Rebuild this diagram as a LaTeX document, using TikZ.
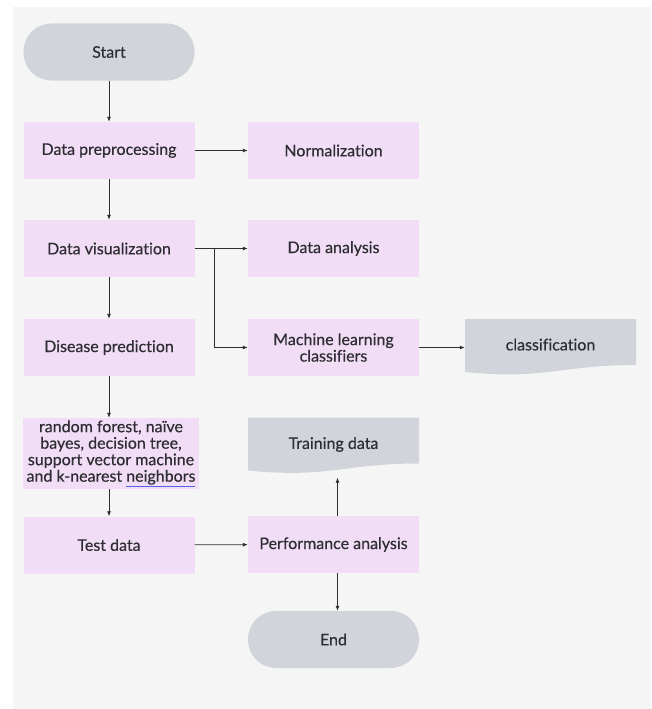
\documentclass[tikz,border=0pt]{standalone}
\usepackage{fontspec}
\setmainfont{Lato}[Ligatures=CommonOff, FakeBold=0.4]
\usepackage{tikz}
\usetikzlibrary{positioning,shapes,arrows.meta}

\definecolor{bgcol}{RGB}{245,245,245}
\definecolor{pinkcol}{RGB}{241,221,246}
\definecolor{graycol}{RGB}{209,213,219}
\definecolor{txtcol}{RGB}{45,45,50}
\definecolor{ulblue}{RGB}{80,100,230}

\tikzstyle{line}=[-, line width=0.8pt, draw=txtcol]
\tikzstyle{arrow}=[line, -{Latex[length=5pt,width=4pt]}]
\tikzstyle{procbox}=[rectangle, fill=pinkcol, minimum width=171pt, minimum height=57pt, text=txtcol, font=\fontsize{16}{16.5}\selectfont]
\tikzstyle{termbox}=[procbox, fill=graycol, rounded corners=28pt]
\tikzstyle{docbox}=[procbox, fill=none, path picture={
    \fill[graycol] (path picture bounding box.north west) -- (path picture bounding box.north east)
      -- ([yshift=11pt]path picture bounding box.south east)
      .. controls +(-75pt,0pt) and +(80pt,-8pt) .. ([yshift=4pt]path picture bounding box.south west) -- cycle;}]

\begin{document}
\begin{tikzpicture}[x=1pt, y=-1pt]
        \useasboundingbox (0,0) rectangle (651,709);
        \fill[bgcol] (13,7) rectangle (651,709);

        \node[termbox] (start) at (109,52) {Start};
        \node[procbox] (prep) at (109,150.5) {Data preprocessing};
        \node[procbox] (norm) at (333.5,150.5) {Normalization};
        \node[procbox] (vis) at (109,248.5) {Data visualization};
        \node[procbox] (anal) at (333.5,248.5) {Data analysis};
        \node[procbox] (dis) at (109,347.5) {Disease prediction};
        \node[procbox, align=center] (mlc) at (333.5,347.5) {Machine learning\\classifiers};
        \node[docbox] (cls) at (550.5,347.5) {\raisebox{6pt}{classification}};
        \node[procbox, minimum width=176pt, minimum height=71pt, align=center, inner sep=1pt] (algo) at (111,453.5)
            {random forest, naïve\\bayes, decision tree,\\support vector machine\\and k-nearest {\color{ulblue}\underline{\color{txtcol}neighbors}}};
        \node[docbox] (train) at (333.5,446) {\raisebox{6pt}{Training data}};
        \node[procbox] (test) at (109,545) {Test data};
        \node[procbox] (perf) at (333.5,544.5) {Performance analysis};
        \node[termbox] (end) at (333.5,639.5) {End};
        \coordinate (br) at (214,248.5);

        \draw[arrow] (start) -- (prep);
        \draw[arrow] (prep) -- (norm);
        \draw[arrow] (prep) -- (vis);
        \draw[line] (vis.east) -- (br);
        \draw[arrow] (br) -- (anal.west);
        \draw[arrow] (br) |- (mlc.west);
        \draw[arrow] (vis) -- (dis);
        \draw[arrow] (mlc) -- (cls);
        \draw[arrow] (dis) -- (dis |- algo.north);
        \draw[arrow] (algo.south -| test) -- (test);
        \draw[arrow] (test) -- (perf);
        \draw[arrow] ([xshift=4pt]perf.north) -- ([xshift=4pt,yshift=-3pt]train.south);
        \draw[arrow] ([xshift=4pt]perf.south) -- ([xshift=4pt]end.north);
    \end{tikzpicture}
\end{document}
